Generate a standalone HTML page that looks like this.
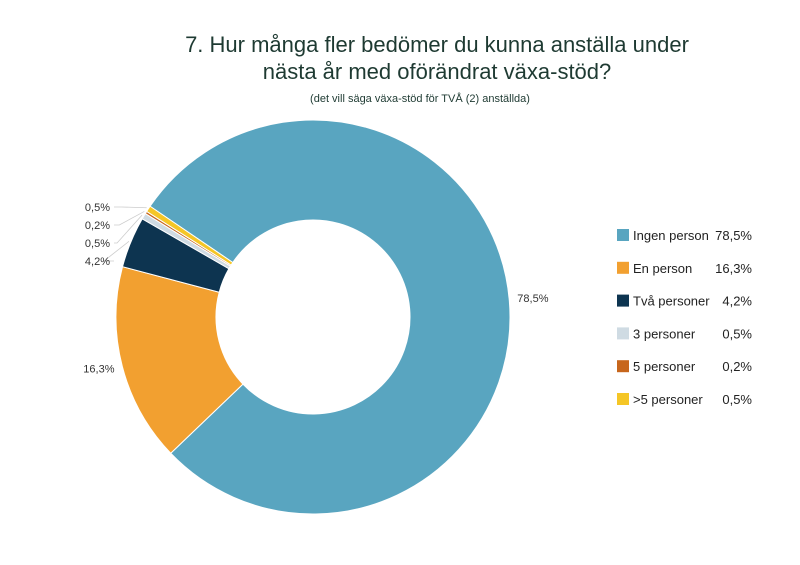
<!DOCTYPE html>
<html><head><meta charset="utf-8"><style>
body{margin:0;background:#fff;}
svg{display:block;font-family:"Liberation Sans",sans-serif;}
</style></head><body>
<svg id="c" width="800" height="565">
<text x="437" y="52" text-anchor="middle" font-size="22" fill="#1e3a32">7.  Hur många fler bedömer du kunna anställa under</text>
<text x="437" y="79" text-anchor="middle" font-size="22" fill="#1e3a32">nästa år med oförändrat växa-stöd?</text>
<text x="420" y="102" text-anchor="middle" font-size="11" fill="#1e3a32">(det vill säga växa-stöd för TVÅ (2) anställda)</text>
<g id="slices"></g><g id="labels"></g><g id="legend"></g>
</svg>
<script>
const categories=["Ingen person","En person","Två personer","3 personer","5 personer",">5 personer"];
const values=[78.5,16.3,4.2,0.5,0.2,0.5];
const valueLabels=["78,5%","16,3%","4,2%","0,5%","0,2%","0,5%"];
const colors=["#59a5c0","#f2a030","#0d3450","#cfdbe3","#c7661c","#f5c626"];
const NS="http://www.w3.org/2000/svg";
const cx=313,cy=317,R=197,r=97,start=304.2;
const total=values.reduce((a,b)=>a+b,0);
function pt(a,rad){const t=a*Math.PI/180;return [cx+rad*Math.sin(t),cy-rad*Math.cos(t)];}
const gS=document.getElementById('slices'),gL=document.getElementById('labels'),gG=document.getElementById('legend');
let a=start;
const smallY=[265,247,229,211];
values.forEach((v,i)=>{
  const sweep=v/total*360,a2=a+sweep,large=sweep>180?1:0;
  const [x1,y1]=pt(a,R),[x2,y2]=pt(a2,R),[x3,y3]=pt(a2,r),[x4,y4]=pt(a,r);
  const p=document.createElementNS(NS,'path');
  p.setAttribute('d',`M${x1},${y1}A${R},${R} 0 ${large} 1 ${x2},${y2}L${x3},${y3}A${r},${r} 0 ${large} 0 ${x4},${y4}Z`);
  p.setAttribute('fill',colors[i]);p.setAttribute('stroke','#fff');p.setAttribute('stroke-width','1');
  
  
  gS.appendChild(p);
  const mid=a+sweep/2;
  const t=document.createElementNS(NS,'text');
  t.setAttribute('font-size','11');t.setAttribute('fill','#333');
  if(i===0){const [lx,ly]=pt(mid,R+8);t.setAttribute('x',lx);t.setAttribute('y',ly+2);}
  else if(i===1){const [lx,ly]=pt(mid,R+8);t.setAttribute('x',lx);t.setAttribute('y',ly+4);t.setAttribute('text-anchor','end');}
  else{
    const ly=smallY[i-2];const [ex,ey]=pt(mid,R+2);
    const l=document.createElementNS(NS,'polyline');
    l.setAttribute('points',`${ex},${ey} ${ex-25},${ly-4} 114,${ly-4}`);
    l.setAttribute('fill','none');l.setAttribute('stroke','#ccc');l.setAttribute('stroke-width','0.8');
    
    
    gL.appendChild(l);
    t.setAttribute('x',110);t.setAttribute('y',ly);t.setAttribute('text-anchor','end');
  }
  t.textContent=valueLabels[i];
  
  
  gL.appendChild(t);
  a=a2;
  const y=235+i*32.8;
  const sw=document.createElementNS(NS,'rect');
  sw.setAttribute('x',617);sw.setAttribute('y',y-6);sw.setAttribute('width',12);sw.setAttribute('height',12);sw.setAttribute('fill',colors[i]);
  
  
  gG.appendChild(sw);
  const lt=document.createElementNS(NS,'text');
  lt.setAttribute('x',633);lt.setAttribute('y',y+5);lt.setAttribute('font-size','13');lt.setAttribute('fill','#222');
  lt.textContent=categories[i];
  
  
  gG.appendChild(lt);
  const vt=document.createElementNS(NS,'text');
  vt.setAttribute('x',752);vt.setAttribute('y',y+5);vt.setAttribute('font-size','13');vt.setAttribute('fill','#222');vt.setAttribute('text-anchor','end');
  vt.textContent=valueLabels[i];
  
  
  gG.appendChild(vt);
});
</script>
</body></html>
